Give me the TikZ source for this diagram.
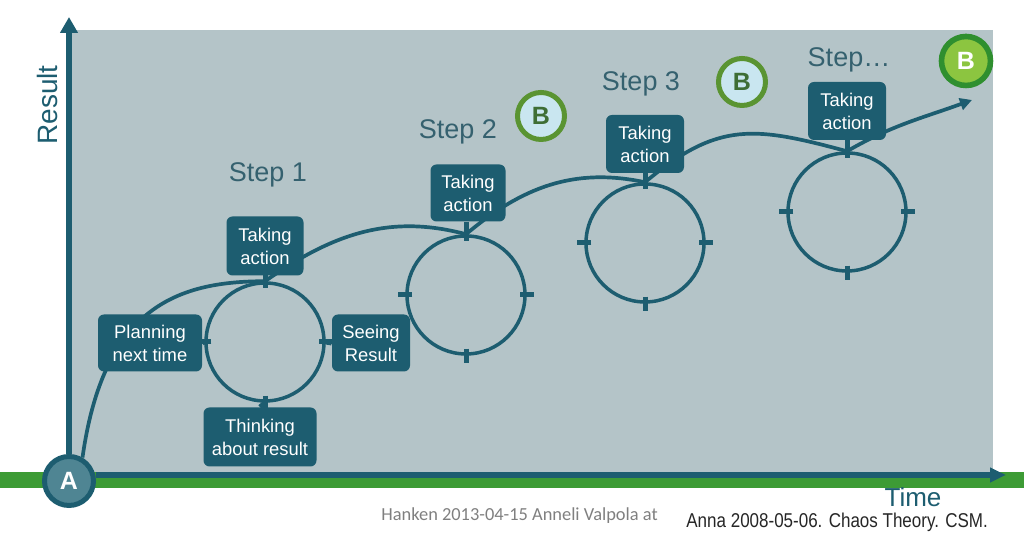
\documentclass[tikz,border=0pt]{standalone}
\usepackage{fontspec}
\setmainfont{Liberation Sans}
\newfontfamily\carlito{Carlito}
\usetikzlibrary{arrows.meta}
\definecolor{bggray}{HTML}{B4C4C8}
\definecolor{dteal}{HTML}{1D5D70}
\definecolor{steptxt}{HTML}{35616F}
\definecolor{bandgreen}{HTML}{3D9B35}
\definecolor{afill}{HTML}{4F8593}
\definecolor{blfill}{HTML}{C9E6F0}
\definecolor{blborder}{HTML}{5A9432}
\definecolor{bltext}{HTML}{3E6E35}
\definecolor{bgfill}{HTML}{8CC540}
\definecolor{bgborder}{HTML}{2F8F2F}
\definecolor{foot}{HTML}{7F7F7F}
\begin{document}
\begin{tikzpicture}[x=0.5pt,y=0.5pt,
  box/.style={rounded corners=3pt, fill=dteal, text=white, align=center,
    font=\fontsize{9.2}{11.5}\selectfont, inner sep=0pt},
  ring/.style={circle, draw=dteal, line width=1.75pt, minimum size=59pt, inner sep=0pt},
  tickmark/.style={draw=dteal, line width=2.5pt},
  stem/.style={draw=dteal, line width=2.5pt},
  curveline/.style={draw=dteal, line width=1.85pt},
  axisline/.style={draw=dteal, line width=2.8pt},
  steplabel/.style={text=steptxt, font=\fontsize{13.5}{16}\selectfont},
  bsmall/.style={circle, fill=blfill, draw=blborder, line width=2.5pt, minimum size=23.5pt,
    inner sep=0pt, text=bltext, font=\bfseries\fontsize{12.5}{14}\selectfont},
  bbig/.style={circle, fill=bgfill, draw=bgborder, line width=2.8pt, minimum size=24.5pt,
    inner sep=0pt, text=white, font=\bfseries\fontsize{12.5}{14}\selectfont},
  anode/.style={circle, fill=afill, draw=dteal, line width=2.5pt, minimum size=24.5pt,
    inner sep=0pt, text=white, font=\bfseries\fontsize{12.5}{14}\selectfont}]
\useasboundingbox (0,0) rectangle (1024,533);
\clip (0,0) rectangle (1024,533);
% background panel and band
\fill[bggray] (70,61) rectangle (993,503);
\fill[bandgreen] (0,45) rectangle (1024,61);
% nodes
\node[anode] (A) at (69,52) {A};
\coordinate (ytip) at (69,516);
\coordinate (xtip) at (1006,58);
\draw[axisline, -{Triangle[length=8pt,width=8.5pt]}] (A.north) -- (ytip);
\draw[axisline, -{Triangle[length=8pt,width=7pt]}] (A.east |- xtip) -- (xtip);
\node[text=dteal, font=\fontsize{14}{16}\selectfont, rotate=90] (res) at (47,428) {Result};
\node[text=dteal, font=\fontsize{13}{15}\selectfont] (time) at (913,36) {Time};
% circles
\node[ring] (c1) at (265,191) {};
\node[ring] (c2) at (466,238) {};
\node[ring] (c3) at (645,290) {};
\node[ring] (c4) at (847,321) {};
\foreach \c in {c1,c2,c3,c4}{
  \draw[tickmark] ([yshift=3.5pt]\c.north) -- ([yshift=-3.5pt]\c.north);
  \draw[tickmark] ([yshift=3.5pt]\c.south) -- ([yshift=-3.5pt]\c.south);
  \draw[tickmark] ([xshift=3.5pt]\c.west) -- ([xshift=-3.5pt]\c.west);
  \draw[tickmark] ([xshift=3.5pt]\c.east) -- ([xshift=-3.5pt]\c.east);
}
% main curve
\coordinate (ctip) at (972,433);
\draw[curveline, -{Triangle[length=6pt,width=6pt]}] (A.60)
  .. controls +(82:150) and +(180:90) .. (c1.north)
  to[out=35,in=165] (c2.north)
  to[out=40,in=168] (c3.north)
  to[out=40,in=165,looseness=1.2] (c4.north)
  to[out=30,in=200] (ctip);
% boxes
\node[box, minimum width=52pt, minimum height=28.5pt] (plan) at (150,190) {Planning\\next time};
\node[box, minimum width=39pt, minimum height=28.5pt] (see) at (371,190) {Seeing\\Result};
\node[box, minimum width=56.5pt, minimum height=29.5pt] (think) at (260,96) {Thinking\\about result};
\node[box, minimum width=38.5pt, minimum height=29.5pt] (ta1) at (265,287) {Taking\\action};
\node[box, minimum width=37.5pt, minimum height=28.5pt] (ta2) at (468,340) {Taking\\action};
\node[box, minimum width=39pt, minimum height=29pt] (ta3) at (645,389) {Taking\\action};
\node[box, minimum width=39pt, minimum height=29pt] (ta4) at (847,422) {Taking\\action};
% stems
\draw[stem] (plan.east) -- (c1.west);
\draw[stem] (see.west) -- (c1.east);
\draw[stem] (think.north) -- (c1.south);
\draw[stem] (ta1.south) -- (c1.north);
\draw[stem] (c2.north |- ta2.south) -- (c2.north);
\draw[stem] (ta3.south) -- (c3.north);
\draw[stem] (ta4.south) -- (c4.north);
% step labels
\node[steplabel] (s1) at (268,358) {Step 1};
\node[steplabel] (s2) at (458,401) {Step 2};
\node[steplabel] (s3) at (641,449) {Step 3};
\node[steplabel] (s4) at (849,473) {Step\ldots};
% B markers
\node[bsmall] (b2) at (541,417) {B};
\node[bsmall] (b3) at (742,451) {B};
\node[bbig] (bf) at (966,472) {B};
% footer
\node[anchor=base west, inner sep=0pt, text=foot, font=\carlito\fontsize{9.2}{11}\selectfont] (f1) at (381,12) {Hanken 2013-04-15 Anneli Valpola at};
\node[anchor=base west, inner sep=0pt, text=black!85, font=\fontsize{10}{12}\selectfont] (f2) at (686,5) {\scalebox{0.85}[1]{Anna 2008-05-06. Chaos Theory. CSM.}};
\end{tikzpicture}
\end{document}
